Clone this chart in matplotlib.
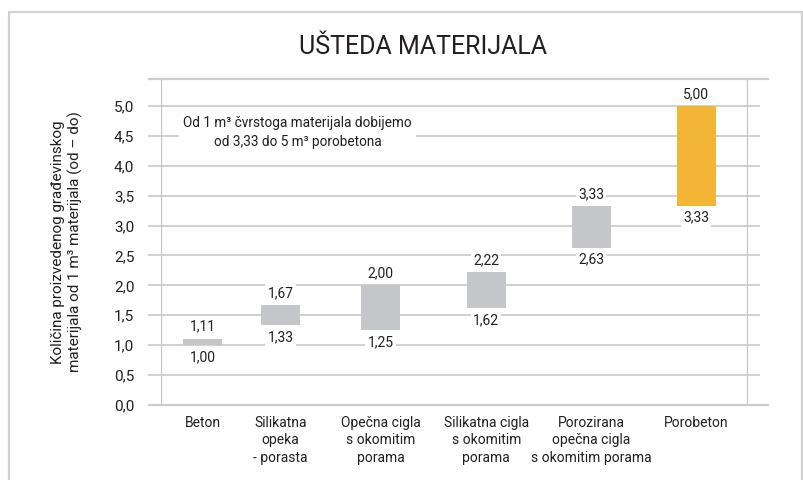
import matplotlib
matplotlib.use("Agg")
import matplotlib.pyplot as plt
from matplotlib.patches import Rectangle

# ---- data ----
categories = ["Beton", "Silikatna\nopeka\n- porasta", "Opečna cigla\ns okomitim\nporama",
              "Silikatna cigla\ns okomitim\nporama", "Porozirana\nopečna cigla\ns okomitim porama",
              "Porobeton"]
low_values = [1.00, 1.33, 1.25, 1.62, 2.63, 3.33]
high_values = [1.11, 1.67, 2.00, 2.22, 3.33, 5.00]
y_ticks = [0.0, 0.5, 1.0, 1.5, 2.0, 2.5, 3.0, 3.5, 4.0, 4.5, 5.0]
title = "UŠTEDA MATERIJALA"
y_label = "Količina proizvedenog građevinskog\nmaterijala od 1 m³ materijala (od – do)"
note = "Od 1 m³ čvrstoga materijala dobijemo\nod 3,33 do 5 m³ porobetona"

# ---- layout ----
x_slots = [0.0, 0.78, 1.78, 2.84, 3.89, 4.94]
bar_colors = ["#c5c6c9"] * 5 + ["#f2b535"]
grid_col = "#cdcdcd"
txt_col = "#231f20"

plt.rcParams['font.family'] = ['Roboto', 'DejaVu Sans']

fig = plt.figure(figsize=(8.04, 4.8), dpi=100)
W, H = 804, 480

# outer border
fig.patches.append(Rectangle((9.5 / W, -0.1), (802.5 - 9.5) / W, 1.1 - 12 / H,
                             transform=fig.transFigure, fill=False,
                             edgecolor="#d2d2d2", linewidth=1.6))

ax = fig.add_axes([160.7 / W, 1 - 405 / H, (748 - 160.7) / W, (405 - 79) / H])
ax.set_xlim(-0.42, 5.46)
ax.set_ylim(0, 5.45)
for s in ax.spines.values():
    s.set_visible(False)

axw = 748 - 160.7
ext_l = -(160.7 - 149) / axw
ext_r = 1 + (759 - 748) / axw
ext_r2 = 1 + (768 - 748) / axw

for yv in y_ticks[1:]:
    ax.axhline(yv, xmin=ext_l, xmax=ext_r, color=grid_col, lw=1.3, clip_on=False, zorder=0)
# top and bottom frame lines
ax.axhline(5.45, xmin=ext_l, xmax=ext_r2, color=grid_col, lw=1.6, clip_on=False, zorder=1)
ax.axhline(0, xmin=ext_l, xmax=ext_r2, color=grid_col, lw=1.6, clip_on=False, zorder=1)
# vertical frame lines
ax.axvline(-0.42, color="#c4c4c4", lw=1.6, zorder=1)
ax.axvline(5.46, color="#c4c4c4", lw=1.6, zorder=1)

heights = [h - l for h, l in zip(high_values, low_values)]
ax.bar(x_slots, heights, bottom=low_values, width=0.39, color=bar_colors, zorder=3)

def fmt(v):
    return f"{v:.2f}".replace(".", ",")

bb = dict(facecolor="white", edgecolor="none", pad=1.5)
for x, lo, hi in zip(x_slots, low_values, high_values):
    ax.annotate(fmt(hi), (x, hi), xytext=(0, 3.5), textcoords="offset points",
                ha="center", va="bottom", fontsize=10, color=txt_col, bbox=bb, zorder=4)
    ax.annotate(fmt(lo), (x, lo), xytext=(0, -3.5), textcoords="offset points",
                ha="center", va="top", fontsize=10, color=txt_col, bbox=bb, zorder=4)

ax.set_yticks(y_ticks)
ax.set_yticklabels([f"{v:.1f}".replace(".", ",") for v in y_ticks], fontsize=11, color=txt_col)
ax.tick_params(axis="y", length=0, pad=19)
ax.set_xticks(x_slots)
ax.set_xticklabels(categories, fontsize=10, color=txt_col, linespacing=1.3)
ax.tick_params(axis="x", length=0, pad=8)

ax.set_ylabel(y_label, fontsize=11, color=txt_col, labelpad=22, linespacing=1.25)

ax.text(0.95, 4.56, note, ha="center", va="center", fontsize=9.8, color=txt_col,
        linespacing=1.45, bbox=dict(facecolor="white", edgecolor="none", pad=3), zorder=4)

fig.text(423 / W, 1 - 47 / H, title, ha="center", va="center", fontsize=18,
         fontweight="normal", color=txt_col)

fig.savefig("out.png", dpi=100, facecolor="white")
